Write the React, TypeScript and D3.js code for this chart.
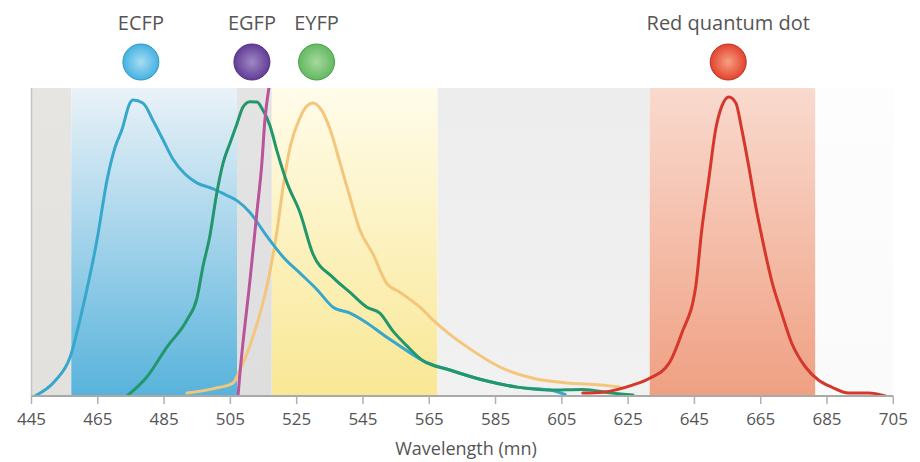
import React, { useEffect, useRef } from "react";
import * as d3 from "d3";

// emission spectra, [wavelength nm, normalised intensity]
const ecfp: [number, number][] = [
  [446, 0], [452, 0.05], [456.6, 0.13], [460.5, 0.3], [464.8, 0.53], [467.8, 0.73],
  [470.2, 0.84], [472.3, 0.9], [474.7, 0.99], [475.6, 1.0], [478.6, 0.99], [481.7, 0.93],
  [484.7, 0.865], [487.7, 0.8], [491.3, 0.75], [494.9, 0.72], [499.8, 0.7], [503.5, 0.68],
  [507, 0.66], [510.9, 0.62], [516, 0.54], [520.9, 0.47], [526, 0.415], [531.1, 0.36],
  [536, 0.3], [541.1, 0.28], [546.2, 0.247], [552, 0.2], [556, 0.17], [563, 0.12],
  [571.2, 0.088], [581.2, 0.054], [591.5, 0.03], [601.4, 0.02], [606, 0.005],
];
const egfp: [number, number][] = [
  [473.8, 0], [479.8, 0.064], [485.9, 0.166], [491.9, 0.257], [494.9, 0.33], [496.7, 0.436],
  [498.8, 0.54], [500.9, 0.686], [502.8, 0.787], [504.9, 0.855], [507, 0.92], [508.8, 0.976],
  [510.9, 0.994], [513, 0.993], [514.8, 0.966], [516.9, 0.915], [519, 0.83], [522.1, 0.72],
  [526, 0.62], [529.9, 0.48], [536, 0.4], [541.1, 0.35], [546.2, 0.3], [550.1, 0.28],
  [554, 0.22], [558.2, 0.17], [563, 0.12], [571.2, 0.088], [581.2, 0.054], [591.5, 0.03],
  [601.4, 0.02], [611.4, 0.022], [620, 0.01], [626.5, 0.003],
];
const eyfp: [number, number][] = [
  [491.9, 0.01], [500, 0.025], [505.8, 0.044], [507.9, 0.088], [511.8, 0.2], [516, 0.37],
  [519.1, 0.56], [520.9, 0.706], [523, 0.84], [526, 0.94], [528.1, 0.98], [529.9, 0.99],
  [533, 0.956], [535.1, 0.9], [538.1, 0.787], [541.1, 0.67], [544.1, 0.56], [548, 0.48],
  [552.2, 0.38], [556.2, 0.35], [562.2, 0.3], [566.1, 0.257], [571, 0.21], [576.4, 0.166],
  [586.3, 0.098], [596.3, 0.06], [606.5, 0.044], [616.5, 0.037], [622.5, 0.03],
];
const purple: [number, number][] = [
  [507.3, 0], [507.9, 0.078], [510.9, 0.39], [513, 0.62], [514.5, 0.787], [515.4, 0.93], [516.6, 1.04],
];
const redQd: [number, number][] = [
  [611.3, 0.01], [617.3, 0.013], [626.3, 0.037], [631.5, 0.06], [637.3, 0.11], [641.2, 0.213],
  [645.4, 0.37], [647.2, 0.56], [649.3, 0.73], [651.4, 0.9], [653.3, 0.98], [655.4, 1.01],
  [657.5, 0.99], [659.3, 0.9], [661.4, 0.775], [663.5, 0.64], [665.3, 0.54], [668.3, 0.39],
  [671.3, 0.28], [674.3, 0.18], [678.5, 0.098], [682.4, 0.054], [686.4, 0.03], [691.5, 0.01],
  [697.5, 0.01], [702.6, 0],
];

const tickValues = [445, 465, 485, 505, 525, 545, 565, 585, 605, 625, 645, 665, 685, 705];

// filter bands (nm)
const bandFrom = [445, 457, 507, 517.5, 567.5, 631.5, 681.5];
const bandTo = [457, 507, 517.5, 567.5, 631.5, 681.5, 705];
const bandTop = ["#e7e5e1", "#eaf2f8", "#e4e4e4", "#fffcea", "#ededed", "#f9dace", "#fdfdfd"];
const bandBottom = ["#e3e1dd", "#58b3dc", "#dedede", "#f9e794", "#f1f1f1", "#efa083", "#fafafa"];

// labelled probes above the plot
const probeNames = ["ECFP", "EGFP", "EYFP", "Red quantum dot"];
const probeNm = [478, 511.5, 531, 655.2];
const probeColor = ["#3aaee0", "#5c3592", "#5cb65a", "#e03a27"];
const probeLight = ["#a8dcf2", "#a088c4", "#a6d89e", "#f7a080"];

export default function App() {
  const ref = useRef<SVGSVGElement | null>(null);

  useEffect(() => {
    const svg = d3.select(ref.current);
    svg.selectAll("*").remove();

    const width = 920;
    const height = 462;
    const top = 88;
    const base = 396;

    const x = d3.scaleLinear().domain([445, 705]).range([31.5, 893.3]);
    const y = d3.scaleLinear().domain([0, 1]).range([base, 100]);

    const defs = svg.append("defs");
    bandFrom.forEach((_, i) => {
      const g = defs
        .append("linearGradient")
        .attr("id", "band" + i)
        .attr("x1", 0)
        .attr("y1", 0)
        .attr("x2", 0)
        .attr("y2", 1);
      g.append("stop").attr("offset", "0%").attr("stop-color", bandTop[i]);
      g.append("stop").attr("offset", "100%").attr("stop-color", bandBottom[i]);
    });
    probeNames.forEach((_, i) => {
      const g = defs
        .append("radialGradient")
        .attr("id", "dot" + i)
        .attr("cx", "50%")
        .attr("cy", "50%")
        .attr("r", "55%");
      g.append("stop").attr("offset", "0%").attr("stop-color", probeLight[i]);
      g.append("stop").attr("offset", "100%").attr("stop-color", probeColor[i]);
    });
    defs
      .append("clipPath")
      .attr("id", "plotClip")
      .append("rect")
      .attr("x", x(445))
      .attr("y", top)
      .attr("width", x(705) - x(445))
      .attr("height", base - top);

    svg.append("rect").attr("width", width).attr("height", height).attr("fill", "#fff");

    // background bands
    svg
      .append("g")
      .selectAll("rect")
      .data(bandFrom)
      .enter()
      .append("rect")
      .attr("x", (d) => x(d))
      .attr("y", top)
      .attr("width", (d, i) => x(bandTo[i]) - x(d))
      .attr("height", base - top)
      .attr("fill", (d, i) => `url(#band${i})`);

    // left frame line
    svg
      .append("line")
      .attr("x1", x(445))
      .attr("x2", x(445))
      .attr("y1", top)
      .attr("y2", base)
      .attr("stroke", "#c4c4c4")
      .attr("stroke-width", 1.5);

    const line = d3
      .line<[number, number]>()
      .x((d) => x(d[0]))
      .y((d) => y(d[1]))
      .curve(d3.curveMonotoneX);

    const series: [[number, number][], string][] = [
      [eyfp, "#f4c67c"],
      [ecfp, "#37a8cc"],
      [egfp, "#22976b"],
      [purple, "#b9539b"],
      [redQd, "#d6372d"],
    ];
    const curves = svg.append("g").attr("clip-path", "url(#plotClip)");
    series.forEach(([data, color]) => {
      curves
        .append("path")
        .attr("d", line(data) as string)
        .attr("fill", "none")
        .attr("stroke", color)
        .attr("stroke-width", 3)
        .attr("stroke-linejoin", "round")
        .attr("stroke-linecap", "round");
    });

    // x axis
    const axis = svg.append("g").attr("transform", `translate(0,${base})`);
    axis
      .append("line")
      .attr("x1", x(445))
      .attr("x2", x(705))
      .attr("stroke", "#a9a9a9")
      .attr("stroke-width", 2);
    const ticks = axis
      .selectAll(".tick")
      .data(tickValues)
      .enter()
      .append("g")
      .attr("transform", (d) => `translate(${x(d)},0)`);
    ticks.append("line").attr("y1", 0).attr("y2", 8).attr("stroke", "#b0b0b0").attr("stroke-width", 1.5);
    ticks
      .append("text")
      .attr("y", 29)
      .attr("text-anchor", "middle")
      .attr("fill", "#555")
      .attr("font-family", "'Open Sans', sans-serif")
      .attr("font-size", 17)
      .text((d) => d);

    svg
      .append("text")
      .attr("x", 466)
      .attr("y", 455)
      .attr("text-anchor", "middle")
      .attr("fill", "#555")
      .attr("font-family", "'Open Sans', sans-serif")
      .attr("font-size", 18)
      .text("Wavelength (mn)");

    // probe labels and dots
    const probes = svg
      .append("g")
      .selectAll("g")
      .data(probeNames)
      .enter()
      .append("g")
      .attr("transform", (d, i) => `translate(${x(probeNm[i])},0)`);
    probes
      .append("text")
      .attr("y", 30)
      .attr("text-anchor", "middle")
      .attr("fill", "#555")
      .attr("font-family", "'Open Sans', sans-serif")
      .attr("font-size", 20)
      .text((d) => d);
    probes
      .append("circle")
      .attr("cy", 62)
      .attr("r", 18)
      .attr("fill", (d, i) => `url(#dot${i})`)
      .attr("stroke", (d, i) => d3.color(probeColor[i])!.darker(0.4).toString())
      .attr("stroke-width", 1);
  }, []);

  return (
    <svg
      ref={ref}
      width={920}
      height={462}
      style={{ position: "absolute", left: 0, top: 0, display: "block" }}
    />
  );
}
